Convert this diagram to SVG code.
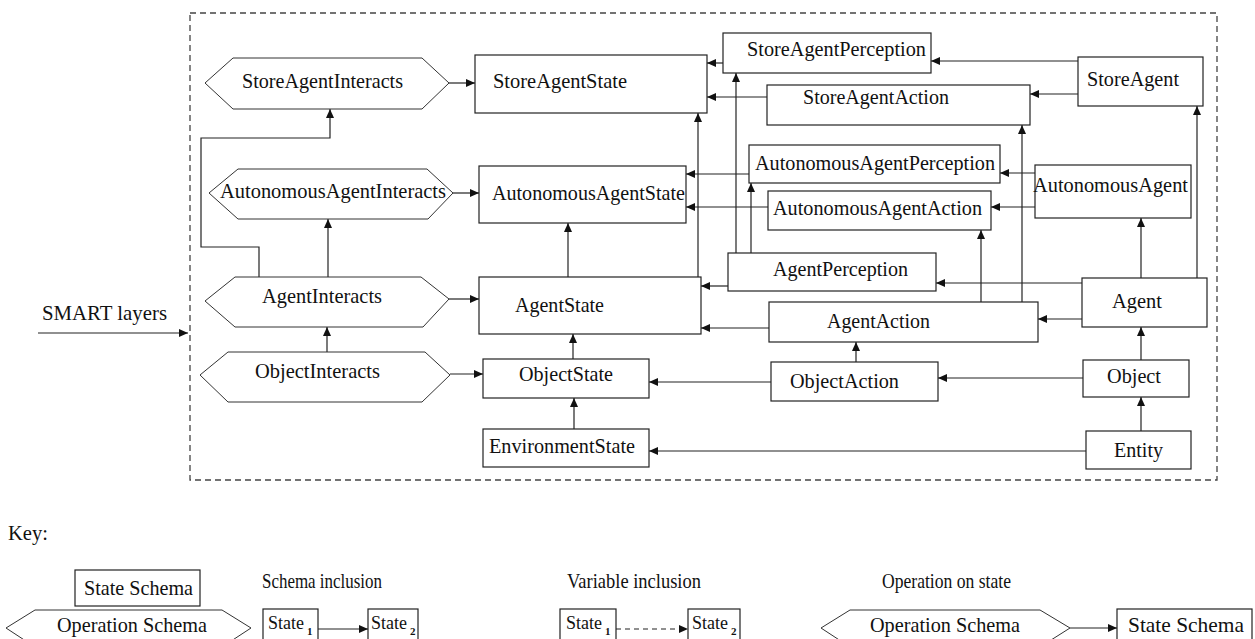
<svg xmlns="http://www.w3.org/2000/svg" width="1255" height="639" viewBox="0 0 1255 639">
<defs>
<marker id="ah" markerUnits="userSpaceOnUse" markerWidth="10" markerHeight="10" refX="9" refY="4" orient="auto">
<path d="M0,0 L9,4 L0,8 z" fill="#111"/>
</marker>
<style>
text{font-family:"Liberation Serif","Times New Roman",serif;font-size:22px;fill:#111}
.box{fill:#fff;stroke:#222;stroke-width:1.2}
.hex{fill:#fff;stroke:#333;stroke-width:1}
.c{fill:none;stroke:#222;stroke-width:1.2}
.a{marker-end:url(#ah)}
.k{font-size:21px}
.st{font-size:18px}
.sub{font-size:11px;font-weight:bold}
</style>
</defs>
<rect x="190" y="13" width="1027" height="467" fill="none" stroke="#444" stroke-width="1.3" stroke-dasharray="6,4"/>
<g id="connectors">
<path class="c a" d="M38,333 H188"/>
<path class="c a" d="M449,83 H475"/>
<path class="c a" d="M453,193 H479"/>
<path class="c a" d="M449,299 H479"/>
<path class="c a" d="M450,374 H483"/>
<path class="c a" d="M259,277 V247 H201 V138 H330 V109"/>
<path class="c a" d="M328,277 V219"/>
<path class="c a" d="M327,352 V327"/>
<path class="c a" d="M568,277 V223"/>
<path class="c a" d="M573,359 V334"/>
<path class="c a" d="M574,429 V398"/>
<path class="c a" d="M698,277 V113"/>
<path class="c a" d="M723,63 H707"/>
<path class="c a" d="M767,97 H707"/>
<path class="c a" d="M749,174 H686"/>
<path class="c a" d="M768,207 H686"/>
<path class="c a" d="M728,286 H701"/>
<path class="c a" d="M769,328 H701"/>
<path class="c a" d="M771,382 H649"/>
<path class="c a" d="M1086,451 H649"/>
<path class="c a" d="M736,253 V73"/>
<path class="c a" d="M751,253 V183"/>
<path class="c a" d="M981,302 V230"/>
<path class="c a" d="M1022,302 V125"/>
<path class="c a" d="M1082,283 H936"/>
<path class="c a" d="M1082,319 H1038"/>
<path class="c a" d="M1141,278 V218"/>
<path class="c a" d="M1197,278 V106"/>
<path class="c a" d="M1141,360 V327"/>
<path class="c a" d="M1141,431 V397"/>
<path class="c a" d="M1083,378 H938"/>
<path class="c a" d="M856,362 V342"/>
<path class="c a" d="M1078,61 H931"/>
<path class="c a" d="M1078,94 H1030"/>
<path class="c a" d="M1035,173 H1000"/>
<path class="c a" d="M1035,207 H991"/>
</g>
<text x="42" y="320" textLength="125" lengthAdjust="spacingAndGlyphs">SMART layers</text>
<g id="StoreAgentInteracts"><polygon class="hex" points="205,83 233,58 422,58 449,83 422,109 233,109"/><text x="242" y="88" textLength="161" lengthAdjust="spacingAndGlyphs">StoreAgentInteracts</text></g>
<g id="AutonomousAgentInteracts"><polygon class="hex" points="209,193 238,169 427,169 453,193 428,219 238,219"/><text x="220" y="198" textLength="226" lengthAdjust="spacingAndGlyphs">AutonomousAgentInteracts</text></g>
<g id="AgentInteracts"><polygon class="hex" points="205,301 235,277 421,277 449,299 423,327 235,327"/><text x="262" y="303" textLength="120" lengthAdjust="spacingAndGlyphs">AgentInteracts</text></g>
<g id="ObjectInteracts"><polygon class="hex" points="200,375 228,352 425,352 450,375 422,402 228,402"/><text x="255" y="378" textLength="125" lengthAdjust="spacingAndGlyphs">ObjectInteracts</text></g>
<g id="StoreAgentState"><rect class="box" x="475" y="55" width="232" height="58"/><text x="493" y="88" textLength="134" lengthAdjust="spacingAndGlyphs">StoreAgentState</text></g>
<g id="AutonomousAgentState"><rect class="box" x="479" y="166" width="207" height="57"/><text x="492" y="200" textLength="193" lengthAdjust="spacingAndGlyphs">AutonomousAgentState</text></g>
<g id="AgentState"><rect class="box" x="479" y="277" width="222" height="57"/><text x="515" y="312" textLength="89" lengthAdjust="spacingAndGlyphs">AgentState</text></g>
<g id="ObjectState"><rect class="box" x="483" y="359" width="166" height="39"/><text x="519" y="381" textLength="94" lengthAdjust="spacingAndGlyphs">ObjectState</text></g>
<g id="EnvironmentState"><rect class="box" x="483" y="429" width="166" height="38"/><text x="489" y="453" textLength="146" lengthAdjust="spacingAndGlyphs">EnvironmentState</text></g>
<g id="StoreAgentPerception"><rect class="box" x="723" y="33" width="208" height="40"/><text x="747" y="56" textLength="179" lengthAdjust="spacingAndGlyphs">StoreAgentPerception</text></g>
<g id="StoreAgentAction"><rect class="box" x="767" y="85" width="263" height="40"/><text x="803" y="104" textLength="146" lengthAdjust="spacingAndGlyphs">StoreAgentAction</text></g>
<g id="AutonomousAgentPerception"><rect class="box" x="749" y="145" width="251" height="38"/><text x="755" y="170" textLength="240" lengthAdjust="spacingAndGlyphs">AutonomousAgentPerception</text></g>
<g id="AutonomousAgentAction"><rect class="box" x="768" y="191" width="223" height="39"/><text x="773" y="215" textLength="209" lengthAdjust="spacingAndGlyphs">AutonomousAgentAction</text></g>
<g id="AgentPerception"><rect class="box" x="728" y="253" width="208" height="38"/><text x="773" y="276" textLength="135" lengthAdjust="spacingAndGlyphs">AgentPerception</text></g>
<g id="AgentAction"><rect class="box" x="769" y="302" width="269" height="40"/><text x="827" y="328" textLength="103" lengthAdjust="spacingAndGlyphs">AgentAction</text></g>
<g id="ObjectAction"><rect class="box" x="771" y="362" width="167" height="39"/><text x="790" y="388" textLength="109" lengthAdjust="spacingAndGlyphs">ObjectAction</text></g>
<g id="StoreAgent"><rect class="box" x="1078" y="57" width="125" height="49"/><text x="1087" y="86" textLength="92" lengthAdjust="spacingAndGlyphs">StoreAgent</text></g>
<g id="AutonomousAgent"><rect class="box" x="1035" y="165" width="156" height="53"/><text x="1033" y="192" textLength="155" lengthAdjust="spacingAndGlyphs">AutonomousAgent</text></g>
<g id="Agent"><rect class="box" x="1082" y="278" width="125" height="49"/><text x="1112" y="308" textLength="50" lengthAdjust="spacingAndGlyphs">Agent</text></g>
<g id="Object"><rect class="box" x="1083" y="360" width="106" height="37"/><text x="1107" y="383" textLength="54" lengthAdjust="spacingAndGlyphs">Object</text></g>
<g id="Entity"><rect class="box" x="1086" y="431" width="105" height="38"/><text x="1114" y="457" textLength="49" lengthAdjust="spacingAndGlyphs">Entity</text></g>
<g id="key">
<text x="8" y="540" textLength="40" lengthAdjust="spacingAndGlyphs">Key:</text>
<rect class="box" x="75" y="570" width="125" height="36"/><text x="84" y="595" textLength="109" lengthAdjust="spacingAndGlyphs">State Schema</text>
<polygon class="hex" points="6,628 35,610 222,610 251,628 222,647 35,647"/><text x="57" y="632" textLength="150" lengthAdjust="spacingAndGlyphs">Operation Schema</text>
<text class="k" x="262" y="588" textLength="120" lengthAdjust="spacingAndGlyphs">Schema inclusion</text>
<rect class="box" x="263" y="609" width="55" height="40"/><text class="st" x="268" y="629">State<tspan class="sub" dx="3" dy="6">1</tspan></text>
<path class="c a" d="M318,629 H368"/>
<rect class="box" x="368" y="609" width="50" height="40"/><text class="st" x="371" y="629">State<tspan class="sub" dx="3" dy="6">2</tspan></text>
<text class="k" x="567" y="588" textLength="134" lengthAdjust="spacingAndGlyphs">Variable inclusion</text>
<rect class="box" x="560" y="609" width="56" height="40"/><text class="st" x="566" y="629">State<tspan class="sub" dx="3" dy="6">1</tspan></text>
<path class="c a" d="M616,629 H688" stroke-dasharray="5,4"/>
<rect class="box" x="688" y="609" width="52" height="40"/><text class="st" x="692" y="629">State<tspan class="sub" dx="3" dy="6">2</tspan></text>
<text class="k" x="882" y="588" textLength="129" lengthAdjust="spacingAndGlyphs">Operation on state</text>
<polygon class="hex" points="821,628 850,610 1040,610 1070,628 1040,647 850,647"/><text x="870" y="632" textLength="150" lengthAdjust="spacingAndGlyphs">Operation Schema</text>
<path class="c a" d="M1070,628 H1117"/>
<rect class="box" x="1117" y="609" width="135" height="40"/><text x="1128" y="632" textLength="116" lengthAdjust="spacingAndGlyphs">State Schema</text>
</g>
</svg>
